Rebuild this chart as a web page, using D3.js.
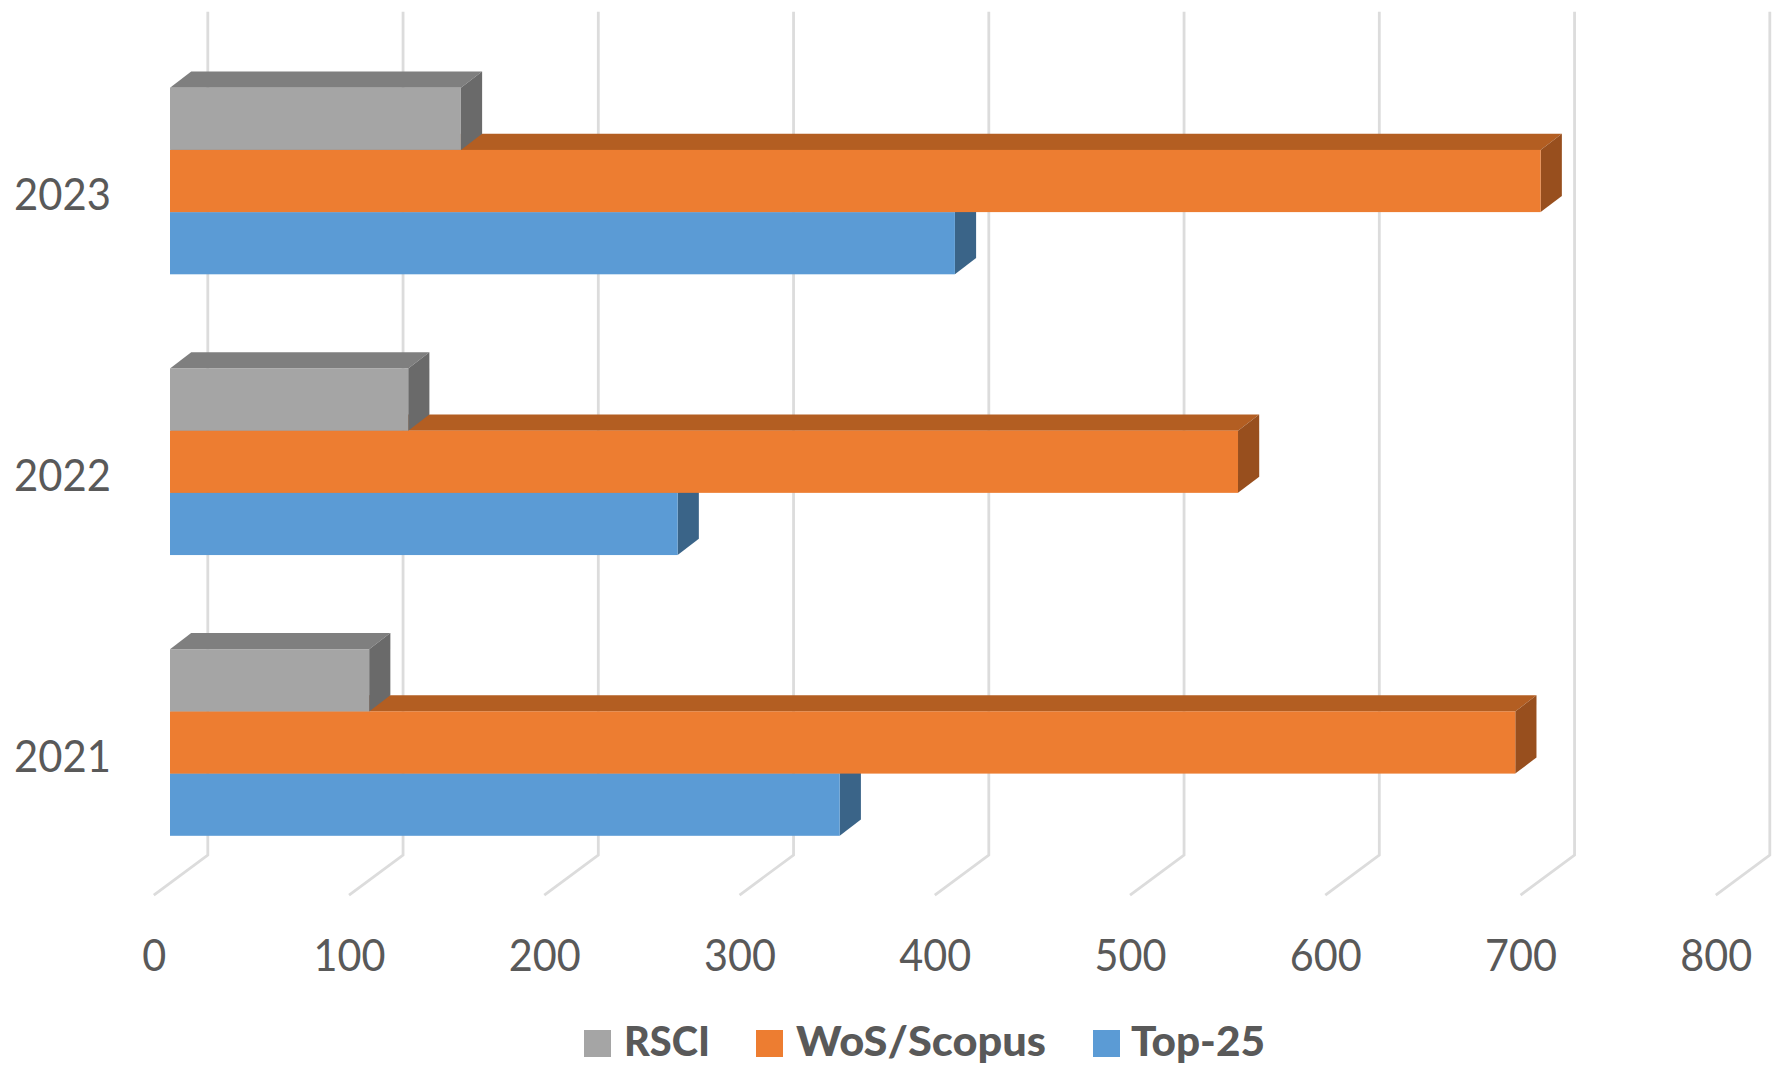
<!DOCTYPE html>
<html><head><meta charset="utf-8">
<script src="https://cdn.jsdelivr.net/npm/d3@7"></script>
<style>html,body{margin:0;padding:0;background:#fff}svg{display:block}</style>
</head><body><svg id="c" width="1781" height="1067"></svg>
<script>
const years = ["2023","2022","2021"];
const seriesNames = ["RSCI","WoS/Scopus","Top-25"];
const rsci = [149,122,102];
const wos = [702,547,689];
const top25 = [402,260,343];
const ticks = [0,100,200,300,400,500,600,700,800];
const colors = ["#A5A5A5","#ED7D31","#5B9BD5"];
const topColors = ["#7F7F7F","#B35E22","#41719C"];
const sideColors = ["#6A6A6A","#984F1E","#3A6488"];

const values = {"RSCI":rsci,"WoS/Scopus":wos,"Top-25":top25};
const svg = d3.select("#c");
const x = d3.scaleLinear().domain([0,800]).range([170,170+1562]);
const yCat = d3.scalePoint().domain(years).range([181,742.5]);
const ySer = d3.scaleBand().domain(seriesNames).range([-93.3,93.3]);
const h = ySer.bandwidth();
const barDx = 21.2, barDy = 16.2;
const gridShift = 37.8, floorDx = 54, floorDy = 40, gridTop = 11.7, gridBottom = 855;
const gx = v => x(v)+gridShift;

svg.append("g").selectAll("path").data(ticks).join("path")
  .attr("d",v=>d3.line()([[gx(v),gridTop],[gx(v),gridBottom],[gx(v)-floorDx,gridBottom+floorDy]]))
  .attr("fill","none").attr("stroke","#DCDCDC").attr("stroke-width",2.8);

const font = "Lato, 'Open Sans', sans-serif";
svg.append("g").selectAll("text").data(ticks).join("text")
  .attr("transform",v=>`translate(${gx(v)-floorDx+0.5},956) scale(0.94,1)`).attr("dy","0.35em")
  .attr("text-anchor","middle").attr("font-family",font).attr("font-size",44).attr("fill","#595959")
  .text(v=>v);

svg.append("g").selectAll("text").data(years).join("text")
  .attr("transform",d=>`translate(14,${yCat(d)+14}) scale(0.95,1)`).attr("dy","0.35em")
  .attr("font-family",font).attr("font-size",44).attr("fill","#595959")
  .text(d=>d);

// draw back-to-front: Top-25 first, RSCI last
const bars = svg.append("g");
seriesNames.slice().reverse().forEach(name=>{
  const si = seriesNames.indexOf(name);
  years.forEach((yr,i)=>{
    const v = values[name][i];
    const x0 = x(0), x1 = x(v), y0 = yCat(yr)+ySer(name), y1 = y0+h;
    const g = bars.append("g");
    g.append("path").attr("d",d3.line()([[x0,y0],[x0+barDx,y0-barDy],[x1+barDx,y0-barDy],[x1,y0]])+"Z").attr("fill",topColors[si]);
    g.append("path").attr("d",d3.line()([[x1,y0],[x1+barDx,y0-barDy],[x1+barDx,y1-barDy],[x1,y1]])+"Z").attr("fill",sideColors[si]);
    g.append("rect").attr("x",x0).attr("y",y0).attr("width",x1-x0).attr("height",h).attr("fill",colors[si]);
  });
});

const legendX = [584,756,1093];
const legendTextX = [624,796,1131];
const legendTextW = [86,250,134];
const leg = svg.append("g").selectAll("g").data(seriesNames).join("g");
leg.append("rect").attr("x",(d,i)=>legendX[i]).attr("y",1030).attr("width",27).attr("height",27)
  .attr("fill",(d,i)=>colors[i]);
leg.append("text").attr("x",(d,i)=>legendTextX[i]).attr("y",1041.5).attr("dy","0.35em")
  .attr("textLength",(d,i)=>legendTextW[i]).attr("lengthAdjust","spacingAndGlyphs")
  .attr("font-family",font).attr("font-weight",900).attr("font-size",41).attr("fill","#595959")
  .text(d=>d);
</script></body></html>
